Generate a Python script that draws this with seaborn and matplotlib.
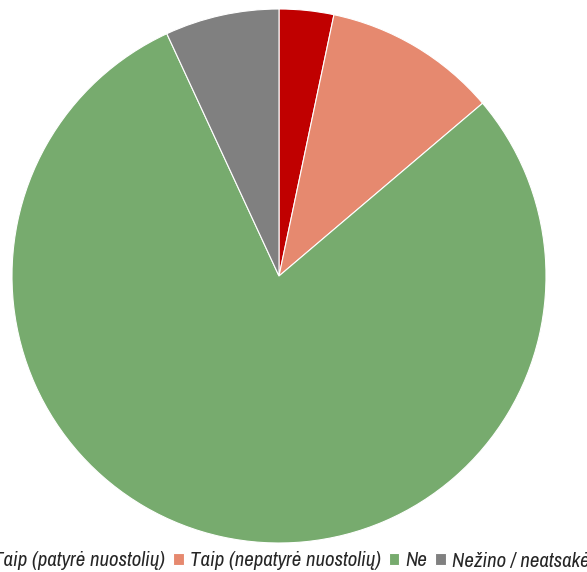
import matplotlib
matplotlib.use("Agg")
import matplotlib.pyplot as plt
import seaborn as sns

labels = ["Taip (patyrė nuostolių)", "Taip (nepatyrė nuostolių)", "Ne", "Nežino / neatsakė"]
shares = [3.3, 10.5, 79.3, 6.9]
colors = ["#C00000", "#E6896F", "#77AB6E", "#808080"]

sns.set_theme(style="white")
plt.rcParams["font.family"] = ["Archivo Narrow", "Liberation Sans", "DejaVu Sans"]

fig = plt.figure(figsize=(5.87, 5.72), dpi=100)
ax = fig.add_axes([12 / 587, 29 / 572, 534 / 587, 534 / 572])

wedges, _ = ax.pie(
    shares,
    colors=colors,
    startangle=90,
    counterclock=False,
    radius=1,
    wedgeprops={"linewidth": 0.8, "edgecolor": "white"},
)
ax.set_aspect("equal")
ax.set_xlim(-1, 1)
ax.set_ylim(-1, 1)

# legend runs off both sides, same as the original export
fig.legend(
    wedges, labels,
    loc="center",
    bbox_to_anchor=(283 / 587, 1 - 561 / 572),
    ncol=4,
    frameon=False,
    handlelength=0.5,
    handleheight=0.5,
    handletextpad=0.28,
    columnspacing=0.4,
    prop={"style": "italic", "size": 15},
)

fig.savefig("out.png", dpi=100)
